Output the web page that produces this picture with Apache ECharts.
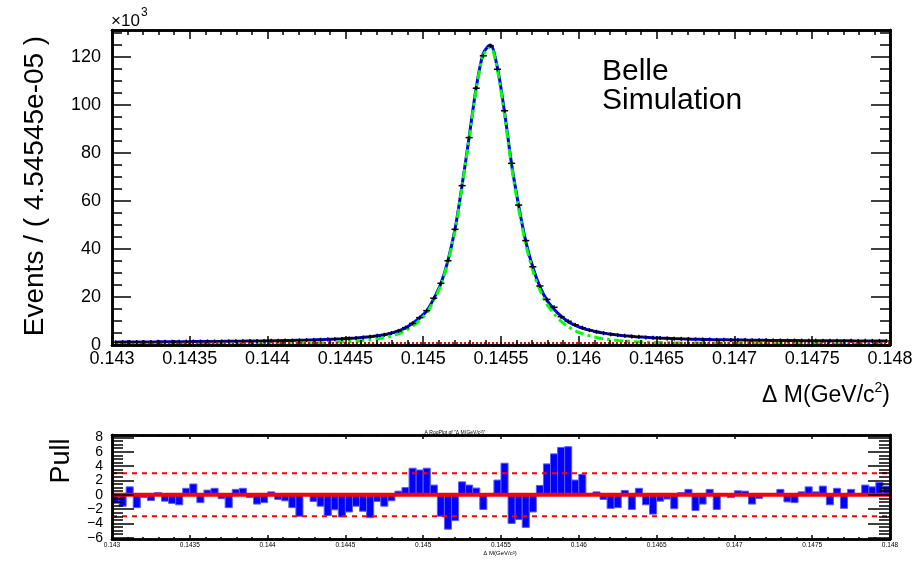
<!DOCTYPE html>
<html><head><meta charset="utf-8">
<script src="https://cdn.jsdelivr.net/npm/echarts@6/dist/echarts.min.js"></script>
<style>html,body{margin:0;padding:0;background:#fff}#c{width:920px;height:563px}</style>
</head><body><div id="c"></div>
<script>
// ---------- data (values in units of 10^3 events) ----------
const xMin = 0.143, xMax = 0.148, nBins = 110;
const xTickLabels = [0.143,0.1435,0.144,0.1445,0.145,0.1455,0.146,0.1465,0.147,0.1475,0.148];
const yTickLabels = [0,20,40,60,80,100,120];
const pullTickLabels = [-6,-4,-2,0,2,4,6,8];
const yMax = 131.25;
const pullMin = -6.17, pullMax = 8.33;

const dataCounts = [
 1.18,1.19,1.24,1.23,1.27,1.28,1.31,1.32,1.34,1.35,
 1.40,1.43,1.42,1.47,1.49,1.50,1.52,1.58,1.61,1.62,
 1.64,1.69,1.76,1.79,1.84,1.89,1.94,2.05,2.13,2.21,
 2.31,2.43,2.55,2.73,2.93,3.13,3.41,3.81,4.27,4.93,
 5.87,7.23,9.0,11.4,14.3,19.5,25.7,35.1,48.2,66.4,
 86.4,107.0,120.5,124.6,114.9,97.6,75.7,58.3,43.5,32.6,
 24.6,19.0,15.7,11.8,9.9,8.4,7.2,6.2,5.51,4.93,
 4.45,4.11,3.86,3.55,3.39,3.17,2.97,2.87,2.76,2.63,
 2.58,2.49,2.34,2.31,2.28,2.16,2.16,2.11,2.09,2.05,
 1.97,1.96,1.94,1.91,1.89,1.85,1.83,1.82,1.81,1.78,
 1.78,1.73,1.75,1.71,1.73,1.71,1.72,1.70,1.70,1.68];

const fitTotal = [
 1.19,1.21,1.23,1.25,1.27,1.29,1.31,1.33,1.35,1.37,
 1.39,1.41,1.43,1.46,1.48,1.51,1.54,1.57,1.60,1.63,
 1.66,1.70,1.75,1.80,1.85,1.91,1.98,2.05,2.14,2.24,
 2.35,2.47,2.61,2.77,2.96,3.19,3.47,3.83,4.30,4.95,
 5.85,7.15,9.05,11.3,14.2,19.3,25.6,35.2,48.3,66.6,
 86.8,107.3,121.6,125.0,115.4,97.0,75.3,58.0,43.2,32.4,
 24.3,18.6,14.9,12.0,9.7,8.2,7.1,6.2,5.5,4.95,
 4.5,4.15,3.85,3.6,3.38,3.2,3.04,2.9,2.78,2.67,
 2.57,2.48,2.40,2.33,2.27,2.21,2.16,2.12,2.08,2.04,
 2.0,1.97,1.94,1.91,1.88,1.86,1.84,1.82,1.80,1.78,
 1.76,1.75,1.74,1.73,1.72,1.71,1.70,1.69,1.68,1.67];

const fitSignal = [
 0.20,0.21,0.22,0.23,0.24,0.25,0.26,0.27,0.28,0.29,
 0.30,0.31,0.33,0.34,0.36,0.38,0.40,0.42,0.44,0.46,
 0.49,0.52,0.55,0.59,0.63,0.68,0.73,0.79,0.86,0.94,
 1.03,1.14,1.27,1.42,1.60,1.83,2.12,2.50,3.00,3.70,
 4.65,6.00,7.9,10.3,13.4,18.6,25.0,34.6,47.7,66.0,
 86.2,106.6,120.8,124.2,114.5,95.9,74.2,56.8,42.0,31.0,
 22.9,17.0,13.0,9.9,7.6,5.9,4.75,3.85,3.15,2.6,
 2.2,1.9,1.65,1.45,1.3,1.18,1.08,1.0,0.93,0.87,
 0.82,0.78,0.74,0.71,0.68,0.66,0.64,0.62,0.60,0.58,
 0.57,0.56,0.55,0.54,0.53,0.52,0.51,0.50,0.49,0.48,
 0.47,0.46,0.46,0.45,0.45,0.44,0.44,0.43,0.43,0.42];

const bgX = [0.143,0.1435,0.144,0.1445,0.145,0.1455,0.146,0.1465,0.147,0.1475,0.148];
const bgValues = [0.78,0.79,0.80,0.81,0.82,0.83,0.84,0.85,0.86,0.87,0.88];

const pulls = [
 -1.2,-1.6,1.1,-1.8,-0.4,-0.8,0.3,-0.9,-1.2,-1.4,
 0.9,1.5,-1.1,0.65,0.9,-0.55,-1.8,0.75,0.9,-0.4,
 -1.3,-1.1,0.4,-0.65,-0.85,-1.8,-3.0,-0.1,-0.93,-1.6,
 -2.9,-2.1,-3.1,-2.4,-1.6,-2.3,-3.2,-0.93,-1.6,-0.84,
 0.5,1.0,3.7,3.45,3.7,1.35,-3.0,-4.8,-3.6,1.8,
 1.35,0.93,-2.05,0.0,2.05,4.4,-4.0,-3.45,-4.55,-2.4,
 1.3,4.3,5.7,6.6,6.7,2.05,2.85,0.05,0.4,-0.65,
 -1.9,-1.8,0.6,-2.05,0.9,-1.4,-2.7,-0.9,-0.6,-1.95,
 0.3,0.75,-2.2,-1.3,0.75,-2.05,0.0,-0.4,0.55,0.5,
 -1.3,-0.5,0.0,0.0,0.75,-1.0,-1.1,0.4,1.1,0.4,
 1.2,-1.4,0.9,-1.9,0.75,0.0,1.35,1.1,1.7,1.2];

const pullRefLines = [0, 3, -3];

// ---------- build ----------
const binW = (xMax - xMin) / nBins;
const lo = i => xMin + i * binW, hi = i => xMin + (i + 1) * binW, ctr = i => xMin + (i + 0.5) * binW;
const FONT = '"Liberation Sans", Arial, Helvetica, sans-serif';
const fmtX = v => String(+(+v).toFixed(5));

const minorX = [];
for (let k = 0; k <= 50; k++) { if (k % 5) minorX.push(+(xMin + k * 0.0001).toFixed(5)); }
const minorY = [];
for (let v = 5; v < yMax; v += 5) { if (v % 20) minorY.push(v); }
const minorP = [];
for (let v = -6; v <= pullMax; v += 0.5) { if (Math.abs(v % 2) > 1e-9) minorP.push(v); }

function xAx(grid, pos, ticks, len, labels, lblOpt) {
  return {
    type: 'value', gridIndex: grid, position: pos, min: xMin, max: xMax, z: 10,
    axisLine: { show: true, onZero: false, lineStyle: { color: '#000', width: 2.5 } },
    axisTick: { show: true, inside: true, length: len, customValues: ticks, lineStyle: { color: '#000', width: 1.5 } },
    axisLabel: labels ? Object.assign({ show: true, customValues: ticks, color: '#000', fontFamily: FONT, formatter: fmtX,
      showMinLabel: true, showMaxLabel: true, hideOverlap: false }, lblOpt) : { show: false },
    splitLine: { show: false }
  };
}
function yAx(grid, pos, mn, mx, ticks, len, labels, lblOpt) {
  return {
    type: 'value', gridIndex: grid, position: pos, min: mn, max: mx, z: 10,
    axisLine: { show: true, onZero: false, lineStyle: { color: '#000', width: 2.5 } },
    axisTick: { show: true, inside: true, length: len, customValues: ticks, lineStyle: { color: '#000', width: 1.5 } },
    axisLabel: labels ? Object.assign({ show: true, customValues: ticks, color: '#000', fontFamily: FONT,
      formatter: v => String(v).replace('-', '\u2212'), showMinLabel: true, showMaxLabel: true, hideOverlap: false }, lblOpt) : { show: false },
    splitLine: { show: false }
  };
}

const option = {
  animation: false,
  backgroundColor: '#fff',
  grid: [
    { left: 112, top: 30, width: 778, height: 315, outerBoundsMode: 'none', containLabel: false },
    { left: 112, top: 435, width: 778, height: 104, outerBoundsMode: 'none', containLabel: false }
  ],
  xAxis: [
    xAx(0, 'bottom', xTickLabels, 9, true, { fontSize: 18, margin: 5 }),
    xAx(0, 'bottom', minorX, 5, false),
    xAx(0, 'top', xTickLabels, 9, false),
    xAx(0, 'top', minorX, 5, false),
    xAx(1, 'bottom', xTickLabels, 4, true, { fontSize: 6.5, margin: 3 }),
    xAx(1, 'bottom', minorX, 2, false),
    xAx(1, 'top', xTickLabels, 4, false),
    xAx(1, 'top', minorX, 2, false)
  ],
  yAxis: [
    yAx(0, 'left', 0, yMax, yTickLabels, 19, true, { fontSize: 18, margin: 11 }),
    yAx(0, 'left', 0, yMax, minorY, 10, false),
    yAx(0, 'right', 0, yMax, yTickLabels, 19, false),
    yAx(0, 'right', 0, yMax, minorY, 10, false),
    yAx(1, 'left', pullMin, pullMax, pullTickLabels, 22, true, { fontSize: 14, lineHeight: 13, margin: 9 }),
    yAx(1, 'left', pullMin, pullMax, minorP, 11, false),
    yAx(1, 'right', pullMin, pullMax, pullTickLabels, 22, false),
    yAx(1, 'right', pullMin, pullMax, minorP, 11, false)
  ],
  series: [
    { type: 'line', xAxisIndex: 0, yAxisIndex: 0, z: 3, showSymbol: false, smooth: 0.3,
      data: fitTotal.map((v, i) => [ctr(i), v]), lineStyle: { color: '#0000ff', width: 3 } },
    { type: 'line', xAxisIndex: 0, yAxisIndex: 0, z: 4, showSymbol: false, smooth: 0.3,
      data: fitSignal.map((v, i) => [ctr(i), v]), lineStyle: { color: '#00ff00', width: 3, type: [9, 4, 3, 4] } },
    { type: 'line', xAxisIndex: 0, yAxisIndex: 0, z: 4, showSymbol: false,
      data: bgValues.map((v, i) => [bgX[i], v]), lineStyle: { color: '#ff0000', width: 2, type: [2, 2] } },
    { type: 'custom', xAxisIndex: 0, yAxisIndex: 0, z: 5, clip: true,
      encode: { x: [0, 1], y: 2 },
      data: dataCounts.map((v, i) => [lo(i), hi(i), v]),
      renderItem: (params, api) => {
        const a = api.coord([api.value(0), api.value(2)]);
        const b = api.coord([api.value(1), api.value(2)]);
        const cx = (a[0] + b[0]) / 2;
        return { type: 'group', children: [
          { type: 'line', shape: { x1: a[0], y1: a[1], x2: b[0], y2: b[1] }, style: { stroke: '#000', lineWidth: 1.5 } },
          { type: 'line', shape: { x1: cx, y1: a[1] - 2, x2: cx, y2: a[1] + 2 }, style: { stroke: '#000', lineWidth: 1.5 } }
        ] };
      } },
    { type: 'custom', xAxisIndex: 4, yAxisIndex: 4, z: 3, clip: true,
      encode: { x: [0, 1], y: 2 },
      data: pulls.map((v, i) => [lo(i), hi(i), v]),
      renderItem: (params, api) => {
        const a = api.coord([api.value(0), 0]);
        const b = api.coord([api.value(1), api.value(2)]);
        return { type: 'rect', shape: { x: a[0], y: Math.min(a[1], b[1]), width: b[0] - a[0], height: Math.abs(b[1] - a[1]) },
          style: { fill: '#0000ff', stroke: '#5a5aff', lineWidth: 1 } };
      } },
    ...pullRefLines.map(r => ({ type: 'line', xAxisIndex: 4, yAxisIndex: 4, z: 4, showSymbol: false, silent: true,
      data: [[xMin, r], [xMax, r]],
      lineStyle: r === 0 ? { color: '#ff0000', width: 4 } : { color: '#ff0000', width: 2, type: [5, 5] } }))
  ],
  graphic: [
    { type: 'text', x: 111, y: 21, style: { text: '\u00d710', font: '17px ' + FONT, fill: '#000', textVerticalAlign: 'middle' } },
    { type: 'text', x: 141, y: 13, style: { text: '3', font: '12px ' + FONT, fill: '#000', textVerticalAlign: 'middle' } },
    { type: 'text', x: 35, y: 186, rotation: Math.PI / 2, style: { text: 'Events / ( 4.54545e-05 )', font: '28px ' + FONT, fill: '#000', textAlign: 'center', textVerticalAlign: 'middle' } },
    { type: 'text', x: 890, y: 394, style: { text: '{a|\u0394 M(GeV/c}{s|2}{a|)}', fill: '#000', textAlign: 'right', textVerticalAlign: 'middle',
        rich: { a: { font: '23px ' + FONT, fill: '#000', lineHeight: 26, verticalAlign: 'bottom' }, s: { font: '14px ' + FONT, fill: '#000', lineHeight: 26, verticalAlign: 'top' } } } },
    { type: 'text', x: 602, y: 72, style: { text: 'Belle', font: '30px ' + FONT, fill: '#000', textVerticalAlign: 'middle' } },
    { type: 'text', x: 602, y: 101, style: { text: 'Simulation', font: '30px ' + FONT, fill: '#000', textVerticalAlign: 'middle' } },
    { type: 'text', x: 62, y: 461, rotation: Math.PI / 2, style: { text: 'Pull', font: '27px ' + FONT, fill: '#000', textAlign: 'center', textVerticalAlign: 'middle' } },
    { type: 'text', x: 455, y: 433, style: { text: 'A RooPlot of "\u0394 M(GeV/c\u00b2)"', font: '5px ' + FONT, fill: '#000', textAlign: 'center', textVerticalAlign: 'middle' } },
    { type: 'text', x: 500, y: 553, style: { text: '\u0394 M(GeV/c\u00b2)', font: '6px ' + FONT, fill: '#000', textAlign: 'center', textVerticalAlign: 'middle' } }
  ]
};
const chart = echarts.init(document.getElementById('c'), null, { renderer: 'canvas' });
chart.setOption(option);
</script>
</body></html>
